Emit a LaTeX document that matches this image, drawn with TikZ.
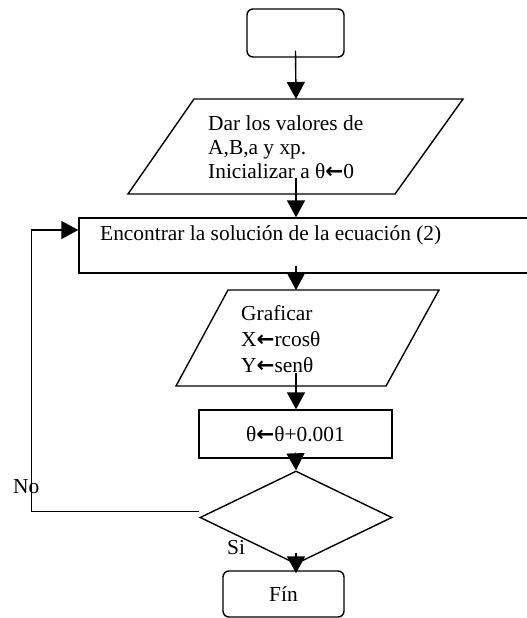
\documentclass[tikz,border=0pt]{standalone}
\usepackage{fontspec}
\setmainfont{Liberation Serif}
\newfontfamily\arrowfont{DejaVu Sans}
\newcommand{\larr}{{\arrowfont\bfseries ←}}
\usetikzlibrary{shapes.geometric,arrows.meta,calc}
\begin{document}
\begin{tikzpicture}[x=1pt,y=-1pt,
  lw/.style={line width=1.4pt},
  arr/.style={lw,-{Triangle[width=18pt,length=17pt]}},
  txt/.style={inner sep=0pt,font=\fontsize{21.4}{24}\selectfont},
  txtb/.style={inner sep=0pt,font=\fontsize{21.4}{26}\selectfont},
  termbox/.style={draw,lw,rounded corners=6pt,inner sep=0pt},
  procbox/.style={draw,lw,inner sep=0pt},
  iobox/.style={draw,lw,line join=miter},
  decision/.style={draw,lw,diamond,inner sep=0pt}]
\useasboundingbox (0,0) rectangle (527,618);

% start terminal
\node[termbox,minimum width=97pt,minimum height=48pt] (start) at (295.5,33) {};

% first input/output
\coordinate (a1) at (194,99);
\coordinate (a2) at (463,99);
\coordinate (a3) at (395,194);
\coordinate (a4) at (128,194);
\draw[iobox] (a1)--(a2)--(a3)--(a4)--cycle;
\coordinate (io1top) at (296,99);
\coordinate (io1bot) at (296,178);
\node[txt,anchor=north west,align=left] (io1) at (208,115)
  {Dar los valores de\\A,B,a y xp.\\Inicializar a θ\larr0};

% process: solve equation
\node[procbox,minimum width=452pt,minimum height=55pt] (enc) at (305,245.5) {};
\node[txt,anchor=base west] (enctxt) at (100,240) {Encontrar la solución de la ecuación (2)};

% second input/output
\coordinate (b1) at (228,290);
\coordinate (b2) at (439,290);
\coordinate (b3) at (386,386);
\coordinate (b4) at (176,386);
\draw[iobox] (b1)--(b2)--(b3)--(b4)--cycle;
\coordinate (io2top) at (296,290);
\coordinate (io2bot) at (296,373);
\node[txtb,anchor=north west,align=left] (io2) at (241,305)
  {Graficar\\X\larr rcosθ\\Y\larr senθ};

% theta increment
\node[procbox,minimum width=193pt,minimum height=48pt,font=\fontsize{21.4}{24}\selectfont] (th) at (295.5,434) {θ\larr θ+0.001};

% decision
\node[decision,minimum width=192pt,minimum height=93pt] (d) at (296,517.5) {};

% end terminal
\node[termbox,minimum width=121pt,minimum height=46pt,font=\fontsize{21.4}{24}\selectfont] (fin) at (283.5,594) {Fín};

% labels
\node[txt,anchor=base west] (no) at (13,493) {No};
\node[txt,anchor=base west] (si) at (227,554) {Si};

% connectors
\draw[arr] ([yshift=7pt]start.south) -- (io1top);
\draw[arr] (io1bot) -- (io1bot |- enc.north);
\draw[arr] ($(io1bot |- enc.south)+(0,-8)$) -- (io2top);
\draw[arr] (io2bot) -- (io2bot |- th.north);
\draw[arr] ([yshift=6pt]th.south) -- (d.north);
\draw[arr] ([yshift=12pt]d.south) -- ($(d.south |- fin.north)+(0,3)$);
\draw[arr] ([yshift=6pt]d.west) -- ++(-168,0) |- ([yshift=15.5pt]enc.west);
\end{tikzpicture}
\end{document}
